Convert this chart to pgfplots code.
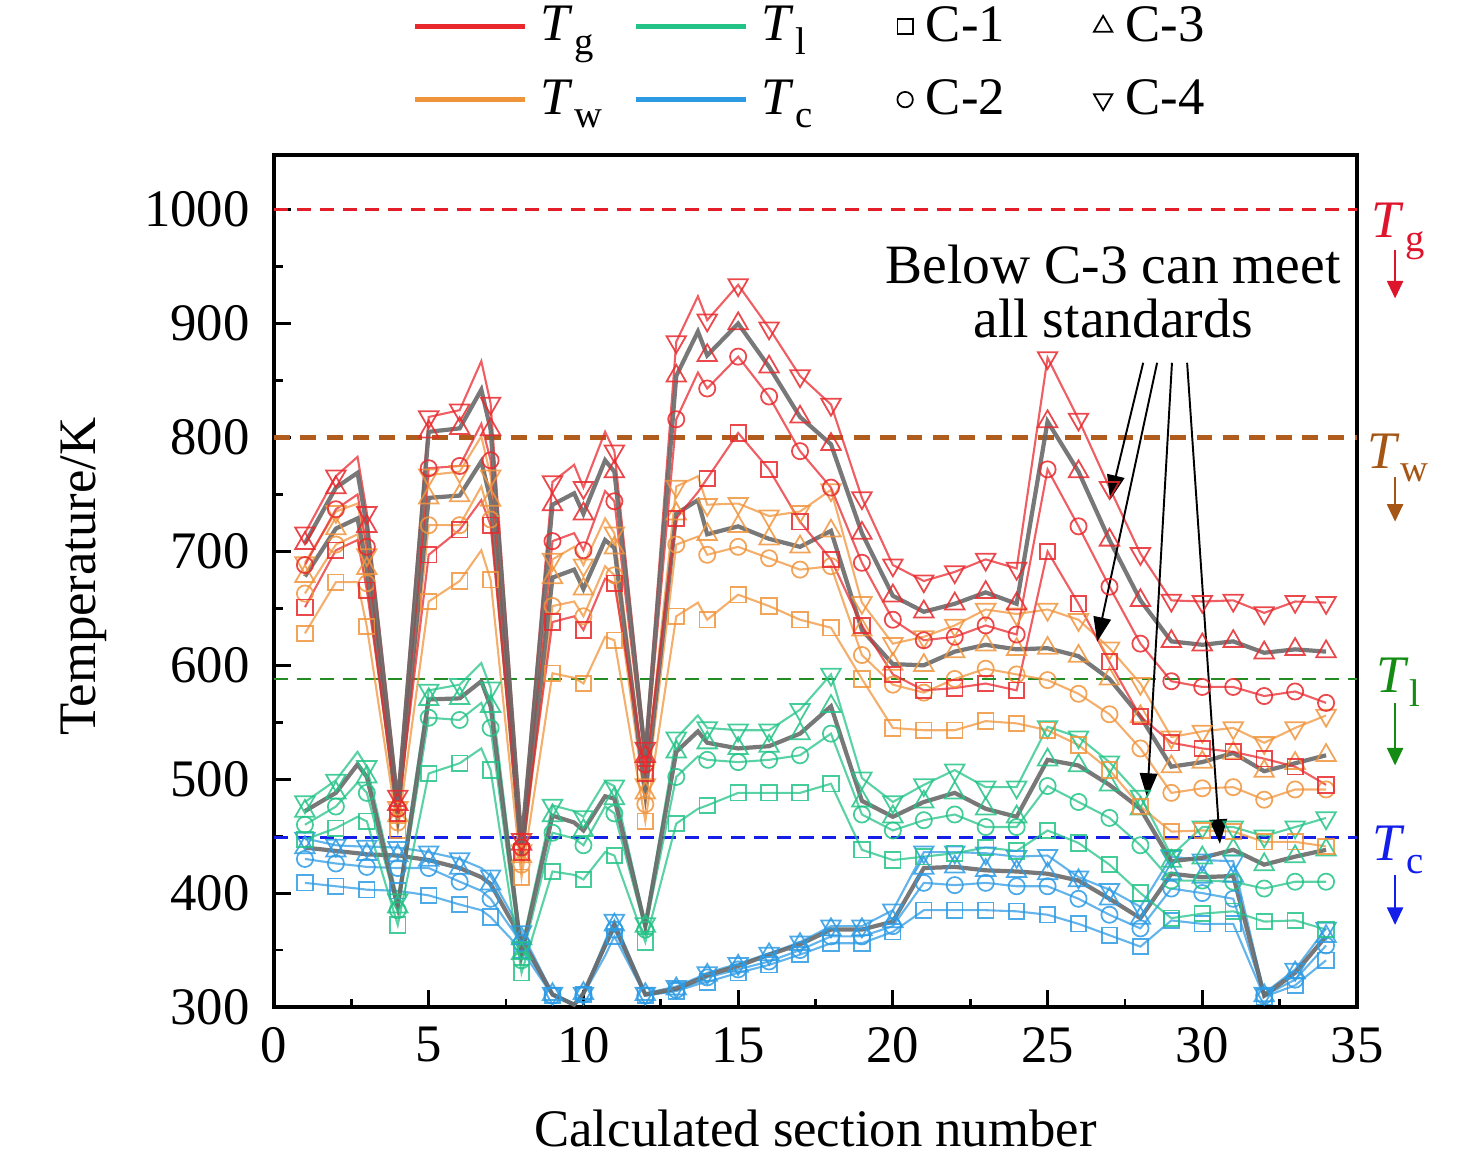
\documentclass[border=0pt]{standalone}
\usepackage{fontspec}
\setmainfont{Liberation Serif}
\usepackage{pgfplots}
\pgfplotsset{compat=1.18}
\usepackage{pgfplotstable}
\usetikzlibrary{arrows.meta}

\definecolor{tgc}{RGB}{232,40,45}
\definecolor{twc}{RGB}{240,148,60}
\definecolor{tlc}{RGB}{35,195,135}
\definecolor{tcc}{RGB}{45,155,228}
\definecolor{grl}{RGB}{105,105,105}
\definecolor{dred}{RGB}{228,30,40}
\definecolor{dbrown}{RGB}{176,92,28}
\definecolor{dgreen}{RGB}{35,140,35}
\definecolor{dblue}{RGB}{20,30,230}
\definecolor{lred}{RGB}{222,20,45}
\definecolor{lbrown}{RGB}{165,85,20}
\definecolor{lgreen}{RGB}{20,140,20}
\definecolor{lblue}{RGB}{20,30,235}

\newcommand{\fs}{\fontsize{15}{18}\selectfont}
\newcommand{\Ts}[1]{\textit{T}\kern0.3pt\raisebox{-0.55ex}{\fontsize{11}{11}\selectfont #1}}

\pgfplotstableread{
x g1 g2 g3 g4 w1 w2 w3 w4 l1 l2 l3 l4 c1 c2 c3 c4
1 651 688 707 716 628 663 678 690 447 460 472 480 409 430 440 448
2 701 737 756 766 673 706 720 735 457 476 488 499 406 426 437 442
2.7 710 750 769 783 673 715 729 742 467 497 513 524 404 424 435 441
3 666 704 722 734 634 672 685 697 463 488 502 511 403 423 434 441
4 470 474 478 485 455 462 468 475 372 385 388 394 402 422 433 440
5 697 773 805 818 656 723 747 767 505 554 570 578 398 422 429 436
6 719 775 808 824 674 723 749 770 514 552 571 583 390 410 422 430
6.7 745 812 842 867 701 757 779 801 527 567 586 602 385 402 414 422
7 723 780 807 830 675 728 745 766 508 545 564 580 379 395 408 415
8 436 440 443 447 414 425 432 437 330 341 347 352 350 356 360 366
9 638 709 741 761 593 652 677 693 419 453 468 477 310 310 311 312
9.7 643 716 751 776 589 656 684 704 416 448 462 472 302 302 302 303
10 631 701 733 756 584 643 667 688 412 442 455 467 311 311 312 312
10.7 676 753 780 805 625 687 710 729 436 476 485 498 345 352 354 358
11 672 744 770 788 622 679 703 716 433 470 483 494 362 368 372 376
12 505 513 520 527 463 478 488 495 357 368 371 373 310 310 311 312
13 729 816 854 884 643 706 733 757 461 502 524 536 314 315 316 318
13.7 752 857 893 924 655 713 745 766 474 520 542 556 320 322 324 326
14 764 843 872 903 640 697 715 741 477 517 532 545 322 326 328 330
15 804 871 900 934 662 704 722 742 488 515 527 543 330 333 336 338
16 772 836 862 896 652 694 711 731 488 517 529 543 337 340 346 347
17 726 788 818 854 640 684 704 735 488 521 540 561 346 350 355 357
18 693 756 794 829 633 687 718 754 496 540 564 592 356 362 368 371
19 635 690 716 747 588 609 631 655 438 469 481 501 356 362 368 371
20 592 640 661 688 545 583 601 619 429 455 467 480 366 371 375 385
21 578 622 647 674 543 576 600 625 432 464 480 495 385 409 422 436
22 580 625 654 682 543 588 612 635 435 469 488 508 385 407 423 436
23 584 635 664 693 551 597 618 649 440 458 474 493 385 409 420 435
24 578 627 654 685 549 592 614 645 437 458 467 493 384 406 419 432
25 700 772 814 870 543 587 615 649 455 494 517 546 381 406 417 433
26 654 722 770 816 530 575 608 640 444 480 512 537 373 395 411 414
27 603 669 710 756 508 557 588 615 425 466 495 515 363 381 395 403
28 555 619 657 698 476 527 555 584 400 442 474 485 353 369 378 388
29 532 586 621 657 454 488 511 537 378 411 428 433 376 404 417 432
30 527 581 618 656 455 492 515 542 382 411 431 458 373 400 414 429
31 524 581 621 657 454 493 523 545 384 410 438 458 373 395 415 428
32 518 573 611 646 445 482 507 532 375 404 425 450 309 310 310 312
33 511 577 614 656 445 491 514 545 376 410 432 458 319 324 330 333
34 495 567 612 655 441 491 521 556 368 410 438 466 341 354 362 369
}\data

\pgfplotsset{
  mi/.style={mark indices={1,2,4,5,6,7,9,10,11,13,15,16,17,19,20,21,22,23,24,25,26,27,28,29,30,31,32,33,34,35,36,37,38,39}},
  sA/.style={forget plot, mi, line width=0.6pt, draw=#1, draw opacity=0.75, mark=square, mark size=2.2pt,
    mark options={solid, draw=#1, draw opacity=0.85, fill=white, fill opacity=0.5, line width=0.5pt}},
  sB/.style={forget plot, mi, line width=0.6pt, draw=#1, draw opacity=0.75, mark=o, mark size=2.3pt,
    mark options={solid, draw=#1, draw opacity=0.85, fill=white, fill opacity=0.5, line width=0.5pt}},
  sC/.style={forget plot, mi, line width=1.2pt, draw=grl, draw opacity=0.9, mark=triangle, mark size=3.2pt,
    mark options={solid, draw=#1, draw opacity=0.85, fill=white, fill opacity=0.5, line width=0.5pt}},
  sD/.style={forget plot, mi, line width=0.6pt, draw=#1, draw opacity=0.75, mark=triangle, mark size=3.2pt,
    mark options={solid, rotate=180, draw=#1, draw opacity=0.85, fill=white, fill opacity=0.5, line width=0.5pt}},
}

\begin{document}
\begin{tikzpicture}
\begin{axis}[
  at={(0,0)}, anchor=south west,
  scale only axis, width=10.83cm, height=8.52cm,
  xmin=0, xmax=35, ymin=300, ymax=1048,
  xtick={0,5,...,35}, ytick={300,400,...,1000},
  minor x tick num=1, minor y tick num=1,
  tick align=inside, xtick pos=left, ytick pos=left,
  major tick length=0.17cm, minor tick length=0.085cm,
  tick style={line width=0.8pt, black},
  axis line style={line width=0.9pt},
  clip=false,
  tick label style={font=\fs},
  xticklabel style={yshift=-0.08cm},
  yticklabel style={xshift=-0.12cm},
  /pgf/number format/assume math mode=true,
  /pgf/number format/1000 sep={},
  xlabel={Calculated section number}, ylabel={Temperature/K},
  label style={font=\fs},
  xlabel style={at={(axis description cs:0.5,-0.142)}, anchor=center},
  ylabel style={at={(axis description cs:-0.176,0.505)}, anchor=center},
  legend columns=4,
  legend cell align=left,
  legend style={draw=none, fill=none, font=\fs, at={(0.497,1.108)}, anchor=center,
    row sep=0.19cm,
    /tikz/every odd column/.style={column sep=0.06cm},
    /tikz/column 2/.style={column sep=0.25cm},
    /tikz/column 4/.style={column sep=0.78cm},
    /tikz/column 6/.style={column sep=0.82cm}},
]
\addlegendimage{legend image code/.code={\draw[tgc, line width=1.3pt] (0cm,0cm) -- (1.1cm,0cm);}}
\addlegendentry{\Ts{g}}
\addlegendimage{legend image code/.code={\draw[tlc, line width=1.3pt] (0cm,0cm) -- (1.1cm,0cm);}}
\addlegendentry{\Ts{l}}
\addlegendimage{legend image code/.code={\path[draw=black, line width=0.5pt] plot[mark=square, mark size=2.2pt] coordinates {(0.1cm,0cm)};}}
\addlegendentry{C-1}
\addlegendimage{legend image code/.code={\path[draw=black, line width=0.5pt] plot[mark=triangle, mark size=3pt] coordinates {(0.1cm,0cm)};}}
\addlegendentry{C-3}
\addlegendimage{legend image code/.code={\draw[twc, line width=1.3pt] (0cm,0cm) -- (1.1cm,0cm);}}
\addlegendentry{\Ts{w}}
\addlegendimage{legend image code/.code={\draw[tcc, line width=1.3pt] (0cm,0cm) -- (1.1cm,0cm);}}
\addlegendentry{\Ts{c}}
\addlegendimage{legend image code/.code={\path[draw=black, line width=0.5pt] plot[mark=o, mark size=2.2pt] coordinates {(0.1cm,0cm)};}}
\addlegendentry{C-2}
\addlegendimage{legend image code/.code={\path[draw=black, line width=0.5pt] plot[mark=triangle, mark size=3pt, mark options={rotate=180}] coordinates {(0.1cm,0cm)};}}
\addlegendentry{C-4}

% limit lines
\addplot[forget plot, dred, line width=0.7pt, dash pattern=on 4pt off 2.5pt] coordinates {(0,1000) (35,1000)};
\addplot[forget plot, dbrown, line width=1.2pt, dash pattern=on 4.5pt off 3pt] coordinates {(0,800) (35,800)};
\addplot[forget plot, dgreen, line width=0.7pt, dash pattern=on 4pt off 2.5pt] coordinates {(0,588) (35,588)};
\addplot[forget plot, dblue, line width=0.7pt, dash pattern=on 4pt off 2.5pt] coordinates {(0,449) (35,449)};

% Tc
\addplot[sA=tcc] table[x=x,y=c1] {\data};
\addplot[sB=tcc] table[x=x,y=c2] {\data};
\addplot[sD=tcc] table[x=x,y=c4] {\data};
\addplot[sC=tcc] table[x=x,y=c3] {\data};
% Tl
\addplot[sA=tlc] table[x=x,y=l1] {\data};
\addplot[sB=tlc] table[x=x,y=l2] {\data};
\addplot[sD=tlc] table[x=x,y=l4] {\data};
\addplot[sC=tlc] table[x=x,y=l3] {\data};
% Tw
\addplot[sA=twc] table[x=x,y=w1] {\data};
\addplot[sB=twc] table[x=x,y=w2] {\data};
\addplot[sD=twc] table[x=x,y=w4] {\data};
\addplot[sC=twc] table[x=x,y=w3] {\data};
% Tg
\addplot[sA=tgc] table[x=x,y=g1] {\data};
\addplot[sB=tgc] table[x=x,y=g2] {\data};
\addplot[sD=tgc] table[x=x,y=g4] {\data};
\addplot[sC=tgc] table[x=x,y=g3] {\data};

% right-hand labels
\node[font=\fs, text=lred] at (axis cs:36.33,981) {\Ts{g}};
\draw[lred, line width=0.8pt, -{Triangle[length=5pt,width=4.5pt]}] (axis cs:36.23,965) -- (axis cs:36.23,922);
\node[font=\fs, text=lbrown] at (axis cs:36.33,782) {\Ts{w}};
\draw[lbrown, line width=0.8pt, -{Triangle[length=5pt,width=4.5pt]}] (axis cs:36.23,765) -- (axis cs:36.23,726);
\node[font=\fs, text=lgreen] at (axis cs:36.33,585) {\Ts{l}};
\draw[lgreen, line width=0.8pt, -{Triangle[length=5pt,width=4.5pt]}] (axis cs:36.23,567) -- (axis cs:36.23,512);
\node[font=\fs, text=lblue] at (axis cs:36.33,438) {\Ts{c}};
\draw[lblue, line width=0.8pt, -{Triangle[length=5pt,width=4.5pt]}] (axis cs:36.23,416) -- (axis cs:36.23,372);

% annotation
\node[font=\fontsize{15.8}{15.5}\selectfont, align=center] at (axis cs:27.12,928) {Below C-3 can meet\\all standards};
\draw[black, line width=0.55pt, -{Triangle[length=7pt,width=5pt]}] (axis cs:28.09,865.6) -- (axis cs:27.02,745.3);
\draw[black, line width=0.55pt, -{Triangle[length=7pt,width=5pt]}] (axis cs:28.54,865.6) -- (axis cs:26.6,620.6);
\draw[black, line width=0.55pt, -{Triangle[length=7pt,width=5pt]}] (axis cs:29.02,865.6) -- (axis cs:28.22,483.6);
\draw[black, line width=0.55pt, -{Triangle[length=7pt,width=5pt]}] (axis cs:29.51,865.6) -- (axis cs:30.57,443.2);
\end{axis}
\pgfresetboundingbox
\useasboundingbox (-2.74cm,-1.54cm) rectangle (12.02cm,10.07cm);
\end{tikzpicture}
\end{document}
